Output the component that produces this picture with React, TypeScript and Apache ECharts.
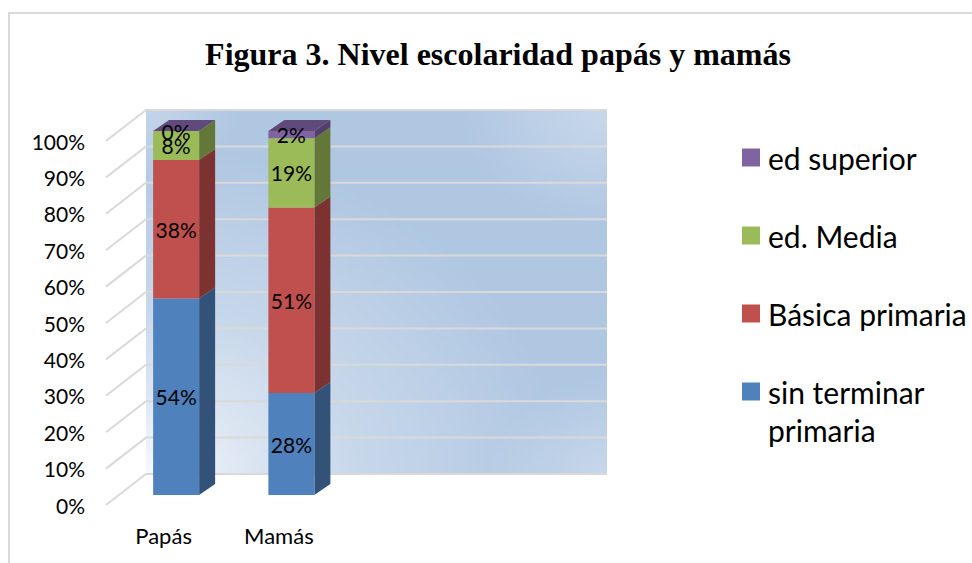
import React, { useEffect, useRef } from "react";
import * as echarts from "echarts";

const categories = ["Papás", "Mamás", "", ""];
const seriesNames = ["sin terminar primaria", "Básica primaria", "ed. Media", "ed superior"];
const sinTerminar = [54, 28, null, null];
const basica = [38, 51, null, null];
const media = [8, 19, null, null];
const superior = [0, 2, null, null];
const valueLists = [sinTerminar, basica, media, superior];
const frontColors = ["#4f81bd", "#c0504d", "#9bbb59", "#8064a2"];
const sideColors = ["#335278", "#7b3230", "#637738", "#523f69"];
const topColors = ["#3f6797", "#9a403e", "#7c9647", "#604a7b"];
const yTicks = [0, 10, 20, 30, 40, 50, 60, 70, 80, 90, 100];

const WALL_DX = 40;
const WALL_DY = -31;
const BAR_DX = 12.5;
const BAR_DY = -10;
const SIDE_DX = 16;
const SIDE_DY = -11;
const BAR_W = 46;

function wallItem(params: any, api: any) {
  const cs = params.coordSys;
  const x = cs.x + WALL_DX;
  const y = cs.y + WALL_DY;
  const shape = { x, y, width: cs.width, height: cs.height };
  const corner = (cx: number, cy: number, r: number, stops: number[][]) => ({
    type: "rect",
    shape,
    style: {
      fill: {
        type: "radial",
        x: cx,
        y: cy,
        r,
        colorStops: stops.map(([offset, a]) => ({ offset, color: `rgba(255,255,255,${a})` })),
      },
    },
  });
  return {
    type: "group",
    children: [
      { type: "rect", shape, style: { fill: "#b0c7e2" } },
      corner(0, 1, 0.9, [[0, 0.9], [0.25, 0.55], [0.5, 0.3], [1, 0]]),
      corner(1, 0, 0.32, [[0, 0.3], [1, 0]]),
      corner(0, 0, 0.2, [[0, 0.25], [1, 0]]),
      corner(1, 1, 0.26, [[0, 0.3], [1, 0]]),
    ],
  };
}

function gridLineItem(params: any, api: any) {
  const cs = params.coordSys;
  const y = api.coord([0, api.value(0)])[1];
  const x0 = cs.x;
  return {
    type: "polyline",
    shape: {
      points: [
        [x0, y],
        [x0 + WALL_DX, y + WALL_DY],
        [x0 + cs.width + WALL_DX, y + WALL_DY],
      ],
    },
    style: { fill: "none", stroke: "#d9d9d9", lineWidth: 2 },
  };
}

function barRenderer(seriesIndex: number, isTop: boolean) {
  return (params: any, api: any) => {
    const cat = api.value(0);
    const start = api.value(1);
    const value = api.value(2);
    const pLow = api.coord([cat, start]);
    const pHigh = api.coord([cat, start + value]);
    const xl = pLow[0] + BAR_DX - BAR_W / 2;
    const xr = xl + BAR_W;
    const yb = pLow[1] + BAR_DY;
    const yt = pHigh[1] + BAR_DY;
    const children: any[] = [
      {
        type: "polygon",
        shape: {
          points: [
            [xr, yb],
            [xr + SIDE_DX, yb + SIDE_DY],
            [xr + SIDE_DX, yt + SIDE_DY],
            [xr, yt],
          ],
        },
        style: { fill: sideColors[seriesIndex] },
      },
      {
        type: "rect",
        shape: { x: xl, y: yt, width: BAR_W, height: yb - yt },
        style: { fill: frontColors[seriesIndex] },
      },
    ];
    if (isTop) {
      children.push({
        type: "polygon",
        shape: {
          points: [
            [xl, yt],
            [xl + SIDE_DX, yt + SIDE_DY],
            [xr + SIDE_DX, yt + SIDE_DY],
            [xr, yt],
          ],
        },
        style: { fill: topColors[seriesIndex] },
      });
    }
    children.push({
      type: "text",
      z2: 10,
      style: {
        text: `${value}%`,
        x: xl + BAR_W / 2,
        y: (yb + yt) / 2,
        align: "center",
        verticalAlign: "middle",
        fill: "#000",
        font: "21px Lato",
      },
    });
    return { type: "group", children };
  };
}

const legendBase = {
  orient: "vertical",
  left: 737,
  itemWidth: 18,
  itemHeight: 18,
  itemGap: 37,
  icon: "rect",
  selectedMode: false,
  formatter: (n: string) => (n === "sin terminar primaria" ? " \nsin terminar\nprimaria" : n),
  textStyle: { fontFamily: "Lato", fontSize: 30, color: "#000", lineHeight: 38, padding: [0, 0, 3, 3] },
};

export default function App() {
  const ref = useRef<HTMLDivElement>(null);
  useEffect(() => {
    document.body.style.margin = "0";
    const chart = echarts.init(ref.current!, null, { renderer: "svg" });
    const cumulative = [0, 0, 0, 0];
    const barSeries = valueLists.map((vals, si) => {
      const data = vals
        .map((v, i) => {
          if (v === null) return null;
          const row = [i, cumulative[i], v];
          cumulative[i] += v;
          return row;
        })
        .filter(Boolean);
      return {
        type: "custom",
        name: seriesNames[si],
        renderItem: barRenderer(si, si === valueLists.length - 1),
        data,
        encode: { x: 0, y: [1, 2] },
        itemStyle: { color: frontColors[si] },
        z: 5 + si,
        silent: true,
      };
    });
    const legendEntry = (i: number) => ({ name: seriesNames[i], itemStyle: { color: frontColors[i] } });
    chart.setOption({
      animation: false,
      backgroundColor: "#fff",
      title: {
        text: "Figura 3. Nivel escolaridad papás y mamás",
        left: 493,
        top: 33,
        textAlign: "center",
        textStyle: { fontFamily: "Liberation Serif", fontWeight: "bold", fontSize: 32, color: "#000" },
      },
      graphic: [
        {
          type: "rect",
          z: -1,
          silent: true,
          shape: { x: 9, y: 13, width: 975, height: 560 },
          style: { fill: "none", stroke: "#d9d9d9", lineWidth: 2 },
        },
      ],
      grid: { left: 106, top: 141, width: 461, height: 364 },
      xAxis: {
        type: "category",
        data: categories,
        axisLine: { show: false },
        axisTick: { show: false },
        axisLabel: { fontFamily: "Lato", fontSize: 22, color: "#000", margin: 19 },
      },
      yAxis: {
        type: "value",
        min: 0,
        max: 100,
        interval: 10,
        axisLine: { show: false },
        axisTick: { show: false },
        splitLine: { show: false },
        axisLabel: { fontFamily: "Lato", fontSize: 21, color: "#000", margin: 21, formatter: "{value}%" },
      },
      legend: [
        { ...legendBase, top: 132, data: [legendEntry(3), legendEntry(2), legendEntry(1)] },
        { ...legendBase, top: 328, data: [legendEntry(0)] },
      ],
      series: [
        {
          type: "custom",
          name: "wall",
          silent: true,
          z: 1,
          renderItem: wallItem,
          data: [[0, 0]],
          encode: { x: 0, y: 1 },
        },
        {
          type: "custom",
          name: "gridlines",
          silent: true,
          z: 2,
          renderItem: gridLineItem,
          data: yTicks.map((t) => [t]),
          encode: { y: 0 },
        },
        ...barSeries,
      ],
    });
    return () => chart.dispose();
  }, []);
  return <div ref={ref} style={{ width: 972, height: 563 }} />;
}
